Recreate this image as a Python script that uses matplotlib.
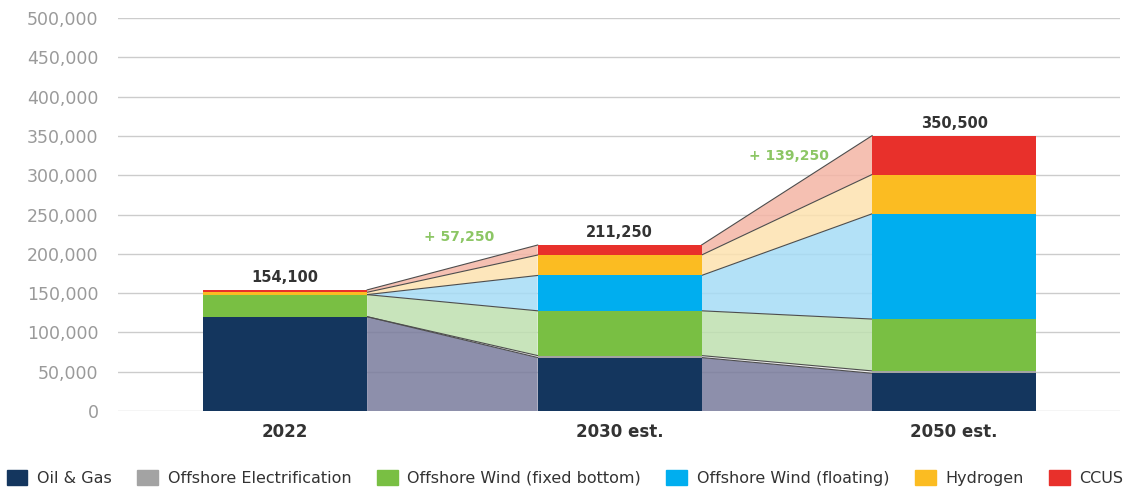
import matplotlib
matplotlib.use("Agg")
import matplotlib.pyplot as plt
import matplotlib.patches as mpatches
import numpy as np

plt.rcParams["font.family"] = ["DejaVu Sans"]

years = ["2022", "2030 est.", "2050 est."]
series = ["Oil & Gas", "Offshore Electrification", "Offshore Wind (fixed bottom)",
          "Offshore Wind (floating)", "Hydrogen", "CCUS"]
oil_gas = [120000, 68000, 48000]
electrification = [0, 2500, 3000]
wind_fixed = [28100, 57000, 66000]
wind_floating = [0, 45000, 134000]
hydrogen = [3000, 26000, 50000]
ccus = [3000, 12750, 49500]
totals = [154100, 211250, 350500]
deltas = ["+ 57,250", "+ 139,250"]

bar_cols = ["#14365e", "#a3a3a3", "#79bf43", "#00aeef", "#fbbc22", "#e8302b"]
band_cols = ["#797b9c", "#ececec", "#bfe0b0", "#a6dcf6", "#fde2af", "#f4b5a5"]

data = np.array([oil_gas, electrification, wind_fixed, wind_floating, hydrogen, ccus], dtype=float)
tops = np.cumsum(data, axis=0)
bots = tops - data

fig = plt.figure(figsize=(11.30, 4.91), dpi=100)
ax = fig.add_axes([0.1044, 0.163, 0.887, 0.800])

x = np.arange(len(years))
W = 0.49

for i in range(len(series)):
    ax.bar(x, data[i], W, bottom=bots[i], color=bar_cols[i], zorder=3, linewidth=0)
    for j in range(len(years) - 1):
        xl, xr = x[j] + W / 2, x[j + 1] - W / 2
        xs = [xl, xr, xr, xl]
        ys = [bots[i][j], bots[i][j + 1], tops[i][j + 1], tops[i][j]]
        ax.fill(xs, ys, color=band_cols[i], alpha=0.85, zorder=2, linewidth=0)
        ax.plot([xl, xr], [tops[i][j], tops[i][j + 1]], color="#4d4d4d", lw=0.8, zorder=2.5)

for xi, t in zip(x, totals):
    ax.text(xi, t + 6000, f"{t:,}", ha="center", va="bottom", fontsize=10.5,
            fontweight="bold", color="#333333")

ax.text(0.52, 222000, deltas[0], ha="center", va="center", fontsize=10,
        color="#8cc665", fontweight="bold")
ax.text(1.507, 324000, deltas[1], ha="center", va="center", fontsize=10,
        color="#8cc665", fontweight="bold")

ax.set_xlim(-0.5, 2.497)
ax.set_ylim(0, 500000)
ax.set_yticks(np.arange(0, 500001, 50000))
ax.set_yticklabels([f"{v:,}" for v in range(0, 500001, 50000)], color="#9a9a9a", fontsize=12.5)
ax.set_xticks(x)
ax.set_xticklabels(years, fontsize=12, fontweight="bold", color="#333333")
ax.tick_params(axis="both", length=0)
ax.tick_params(axis="y", pad=14)
ax.tick_params(axis="x", pad=9)
ax.grid(axis="y", color="#cccccc", lw=1, zorder=0)
ax.set_axisbelow(True)
for s in ax.spines.values():
    s.set_visible(False)

handles = [mpatches.Patch(color=c, label=l) for c, l in zip(bar_cols, series)]
fig.legend(handles=handles, loc="center", bbox_to_anchor=(0.5, 0.027), ncol=6,
           frameon=False, fontsize=11.5, handlelength=1.3, handleheight=1.1,
           handletextpad=0.6, columnspacing=1.6, labelcolor="#333333")

fig.savefig("out.png", dpi=100)
